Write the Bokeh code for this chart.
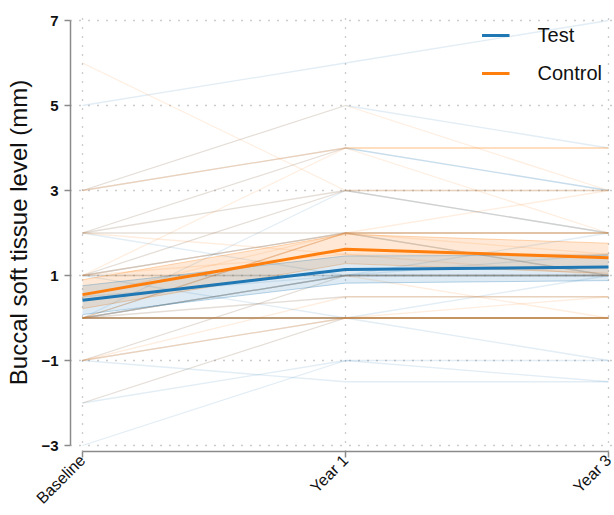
import math
from bokeh.plotting import figure
from bokeh.models import FixedTicker, Legend, LegendItem
from bokeh.embed import file_html
from bokeh.resources import INLINE

categories = ["Baseline", "Year 1", "Year 3"]
y_ticks = [-3, -1, 1, 3, 5, 7]

# Individual trajectories (Baseline, Year 1, Year 3)
test_baseline = [0, 0, 0, 0, 0, 0, 0, 0, 0, 0, 1, 1, 1, 1, 2, 2, 2, -1, -1, -2, -2, -3, 0.5, 3, 3, 1, 0, 0, 1, -1, 2, 0, 5, 0]
test_year1    = [0, 0, 0, 0, 0, 0, 1, 1, 1, 0.5, 1, 2, 3, 1, 2, 4, 3, 0, 1, 0, -1, -1, 1, 4, 5, 2, 1, 2, 0, -1.5, 1, 3, 6, 0]
test_year3    = [0, 0, 0, 0, 0, 0, 1, 1, 1.5, 0.5, 1, 2, 3, 1, 2, 3, 2, 0, 1, -1, -1.5, -1, 1, 3, 4, 1, 2, 1, 0, -1.5, 1, 2, 7, 1]

control_baseline = [0, 0, 0, 0, 0, 0, 0, 0, 0, 1, 1, 1, 2, 2, 3, 3, 6, -1, -1, -2, -1, 0, 0.5, 1, 2, 3, 0, 1, 0, 2, 1, -1]
control_year1    = [0, 0, 0, 0, 0, 2, 2, 1, 0, 2, 3, 2, 2, 4, 4, 5, 3, 0, 0, 0, 1, 1, 2, 1, 3, 4, 0.5, 1.5, 2, 1.5, 4, 0.5]
control_year3    = [0, 0, 0, 0, 0, 2, 1, 1, 0, 2, 3, 1.5, 2, 4, 4, 3, 3, 0, 0.5, 0, 1, 0, 2, 1, 2, 2, 0.5, 1, 3, 1.5, 4, 0.5]

# Group means with confidence bands
test_mean  = [0.42, 1.14, 1.20]
test_lower = [0.08, 0.82, 0.88]
test_upper = [0.76, 1.46, 1.48]
control_mean  = [0.55, 1.62, 1.42]
control_lower = [0.22, 1.28, 1.05]
control_upper = [0.90, 1.97, 1.76]

BLUE = "#1f77b4"
ORANGE = "#ff7f0e"
FONT = "Liberation Sans"

x = list(range(len(categories)))

W, H = 614, 515
p = figure(width=W, height=H, output_backend="svg", toolbar_location=None,
           x_range=(-12 / 263, 2 + 4 / 263),
           y_range=(-3 - 6 / 42.5, 7 + 7 / 42.5),
           min_border_left=70, min_border_right=2, min_border_top=13, min_border_bottom=64)
p.outline_line_color = None
p.background_fill_color = "white"

# grids
p.xgrid.ticker = FixedTicker(ticks=x)
p.ygrid.ticker = FixedTicker(ticks=y_ticks)
for g in (p.xgrid, p.ygrid):
    g.grid_line_color = "#999999"
    g.grid_line_dash = "1 8"
    g.grid_line_width = 1.3

# individual lines
def traj(b, y1, y3):
    return [[b[i], y1[i], y3[i]] for i in range(len(b))]

p.multi_line(xs=[x] * len(test_baseline), ys=traj(test_baseline, test_year1, test_year3),
             line_color=BLUE, line_alpha=0.13, line_width=1.3)
p.multi_line(xs=[x] * len(control_baseline), ys=traj(control_baseline, control_year1, control_year3),
             line_color=ORANGE, line_alpha=0.13, line_width=1.3)

# bands
p.varea(x=x, y1=control_lower, y2=control_upper, fill_color=ORANGE, fill_alpha=0.17)
p.line(x, control_lower, line_color=ORANGE, line_alpha=0.3, line_width=1)
p.line(x, control_upper, line_color=ORANGE, line_alpha=0.3, line_width=1)
p.varea(x=x, y1=test_lower, y2=test_upper, fill_color=BLUE, fill_alpha=0.15)
p.line(x, test_lower, line_color=BLUE, line_alpha=0.3, line_width=1)
p.line(x, test_upper, line_color=BLUE, line_alpha=0.3, line_width=1)

r_test = p.line(x, test_mean, line_color=BLUE, line_width=3)
r_ctrl = p.line(x, control_mean, line_color=ORANGE, line_width=3)

# axes
p.yaxis.ticker = FixedTicker(ticks=y_ticks)
p.yaxis.bounds = (-3, 7)
p.xaxis.ticker = FixedTicker(ticks=x)
p.xaxis.bounds = (0, 2)
p.xaxis.major_label_overrides = {i: c for i, c in zip(x, categories)}
p.xaxis.major_label_orientation = math.pi / 4
for ax in (p.xaxis, p.yaxis):
    ax.axis_line_color = "#8a8a8a"
    ax.axis_line_width = 1.5
    ax.major_tick_line_color = "#8a8a8a"
    ax.major_tick_line_width = 1.5
    ax.major_tick_out = 6
    ax.major_tick_in = 0
    ax.minor_tick_line_color = None
    ax.major_label_text_font = FONT
    ax.major_label_text_color = "#111111"
p.yaxis.major_label_text_font_size = "15px"
p.yaxis.major_label_text_font_style = "bold"
p.yaxis.major_label_standoff = 6
p.xaxis.major_label_text_font_size = "16px"
p.xaxis.major_label_standoff = 0
p.yaxis.axis_label = "Buccal soft tissue level (mm)"
p.yaxis.axis_label_text_font = FONT
p.yaxis.axis_label_text_font_size = "24px"
p.yaxis.axis_label_text_font_style = "normal"
p.yaxis.axis_label_text_color = "#111111"
p.yaxis.axis_label_standoff = 6

legend = Legend(items=[LegendItem(label="Test", renderers=[r_test]),
                       LegendItem(label="Control", renderers=[r_ctrl])],
                location="top_right", margin=0, padding=10, spacing=14,
                glyph_width=28, glyph_height=24, label_height=24, label_standoff=28,
                label_text_font=FONT, label_text_font_size="20px",
                label_text_color="#111111",
                background_fill_alpha=0, border_line_alpha=0)
p.add_layout(legend)

open("out.html", "w").write(file_html(p, INLINE))
